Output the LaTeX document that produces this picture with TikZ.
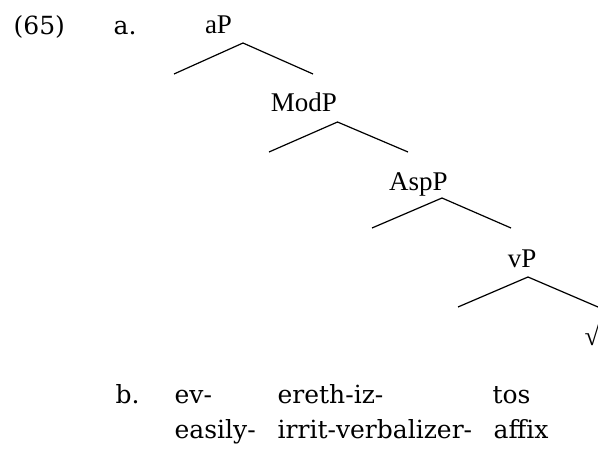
\documentclass[tikz,border=0pt]{standalone}
\usepackage{fontspec}
\setmainfont{DejaVu Serif}
\newfontfamily\treefont{Liberation Serif}
\tikzset{
  lbl/.style={font=\treefont\fontsize{13.5}{16}\selectfont,anchor=base,inner sep=0pt},
  gl/.style={font=\fontsize{12.5}{15}\selectfont,anchor=base west,inner sep=0pt}
}

\begin{document}
\begin{tikzpicture}[x=0.5pt,y=-0.5pt,line width=0.6pt]
\useasboundingbox (0,0) rectangle (598,449);
\node [gl] (exno) at (13,35) {(65)};
\node [gl] (parta) at (113,35) {a.};
% tree
\node [lbl] (aP) at (218.5,34) {aP};
\coordinate (aP-top) at (243,43);
\coordinate (aP-l) at (174,74);
\coordinate (aP-r) at (313,74);
\draw (aP-l) -- (aP-top) -- (aP-r);
\node [lbl] (ModP) at (304,112) {ModP};
\coordinate (ModP-top) at (337.5,122);
\coordinate (ModP-l) at (269,152);
\coordinate (ModP-r) at (408,152);
\draw (ModP-l) -- (ModP-top) -- (ModP-r);
\node [lbl] (AspP) at (418.5,190) {AspP};
\coordinate (AspP-top) at (442,198);
\coordinate (AspP-l) at (372,228);
\coordinate (AspP-r) at (511,228);
\draw (AspP-l) -- (AspP-top) -- (AspP-r);
\node [lbl] (vP) at (522,267) {vP};
\coordinate (vP-top) at (528,277);
\coordinate (vP-l) at (458,307);
\coordinate (vP-r) at (598,307);
\draw (vP-l) -- (vP-top) -- (vP-r);
\node [lbl,anchor=base west] (root) at (584,345) {√};
% gloss
\node [gl] (partb) at (115,403) {b.};
\node [gl] (ev) at (174,403) {ev-};
\node [gl] (ereth) at (277,403) {ereth-iz-};
\node [gl] (tos) at (492,403) {tos};
\node [gl] (easily) at (174,438) {easily-};
\node [gl] (irrit) at (277,438) {irrit-verbalizer-};
\node [gl] (affix) at (493,438) {affix};
\end{tikzpicture}
\end{document}
